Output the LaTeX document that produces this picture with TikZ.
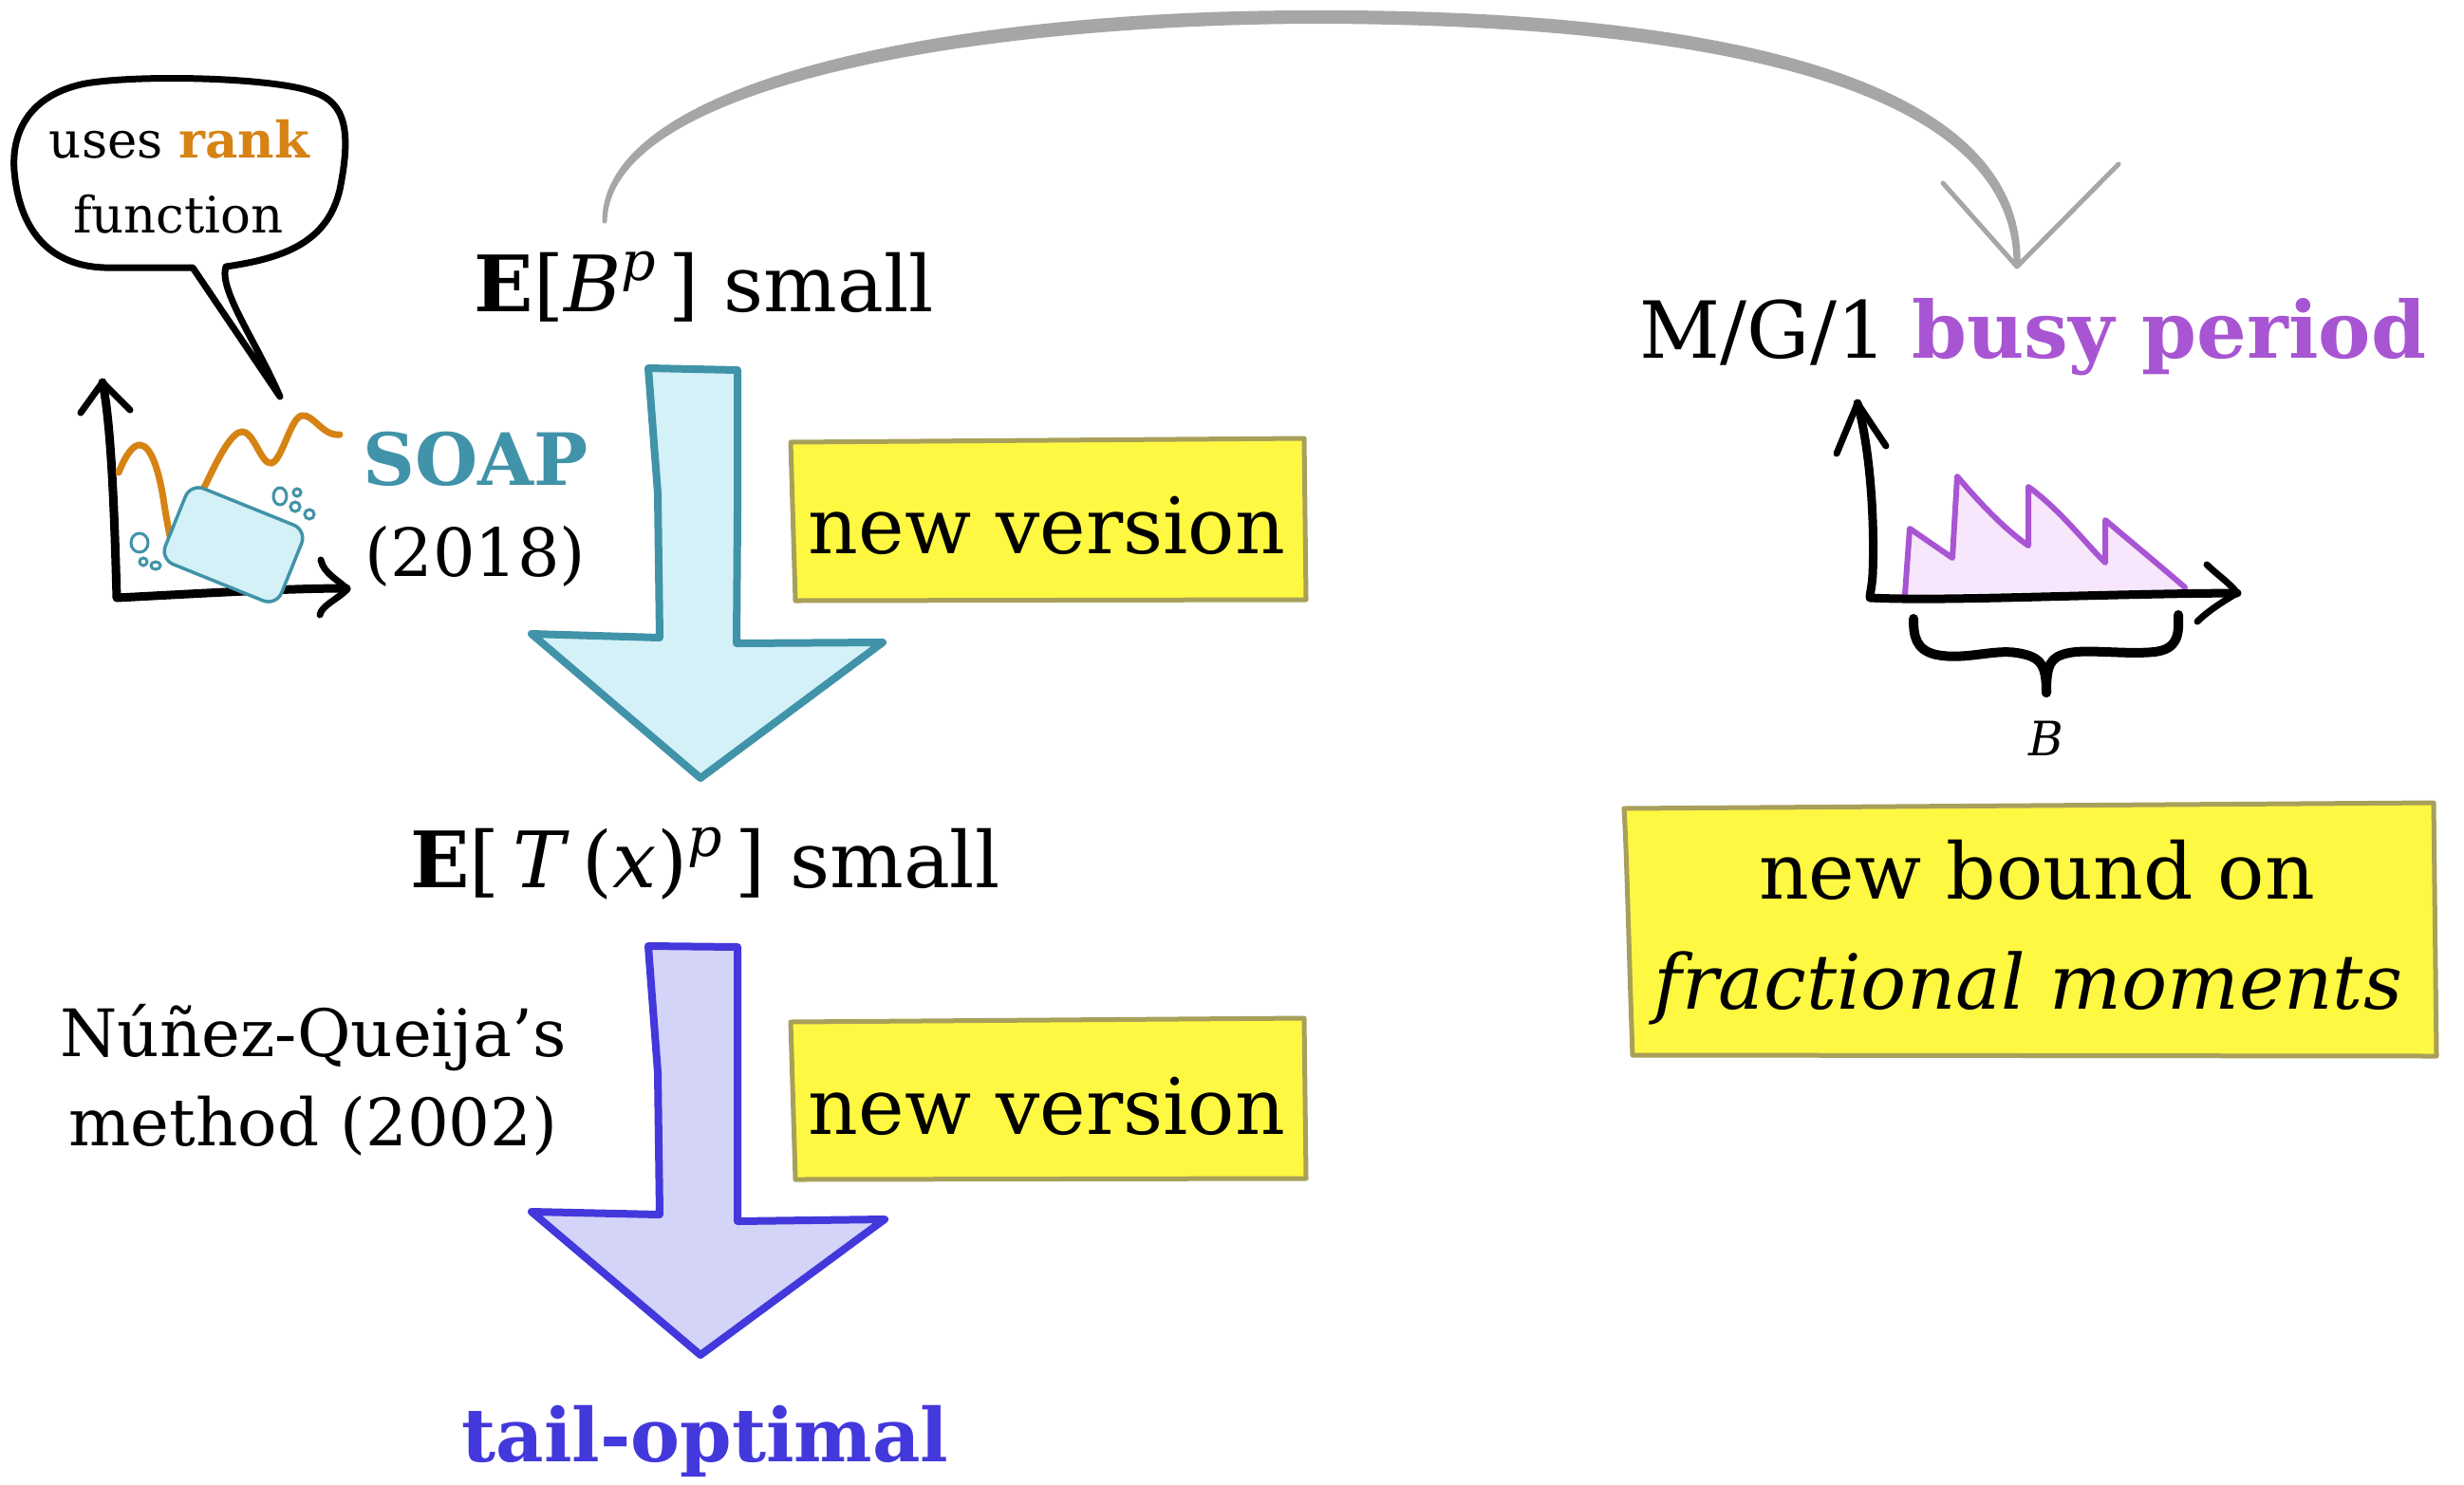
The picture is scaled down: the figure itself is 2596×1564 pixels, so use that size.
\documentclass[tikz,border=0pt]{standalone}
\usepackage{fontspec}
\setmainfont{DejaVu Serif}
\definecolor{soapteal}{RGB}{64,147,168}
\definecolor{soapfill}{RGB}{211,241,247}
\definecolor{rankorange}{RGB}{214,131,20}
\definecolor{busypurple}{RGB}{168,85,211}
\definecolor{busyfill}{RGB}{247,230,252}
\definecolor{tailblue}{RGB}{67,56,219}
\definecolor{tailfill}{RGB}{212,211,248}
\definecolor{notefill}{RGB}{255,248,66}
\definecolor{noteedge}{RGB}{168,160,90}
\definecolor{linkgray}{RGB}{166,166,166}
% italic exponent set in text fonts
\newcommand{\expit}[1]{\raisebox{0.4em}{\fontsize{57}{60}\selectfont\itshape #1}}
\tikzset{
  bigtext/.style={font=\fontsize{82}{98}\selectfont, inner sep=0pt, anchor=base},
  midtext/.style={font=\fontsize{69}{83}\selectfont, inner sep=0pt, anchor=base},
  bubbletext/.style={font=\fontsize{53}{64}\selectfont, inner sep=0pt, anchor=base},
  note/.style={draw=noteedge, fill=notefill, line width=5pt, line join=round},
  blockarrow/.style={line width=8pt, line join=round},
  axisline/.style={black, line width=9pt, line cap=round, line join=round},
  tipline/.style={black, line width=7pt, line cap=round, line join=round},
}
\begin{document}
\begin{tikzpicture}[x=1pt, y=-1pt]
\useasboundingbox (0,0) rectangle (2596,1564);
\fill[white] (0,0) rectangle (2596,1564);

% ---------- speech bubble ----------
\draw[black, line width=7pt, line join=round, fill=white]
  (203,282) -- (295,418) .. controls (270,360) and (230,305) .. (238,281)
  .. controls (300,272) and (345,255) .. (358,200)
  .. controls (370,140) and (365,108) .. (330,97)
  .. controls (290,82) and (150,78) .. (90,88)
  .. controls (30,100) and (12,140) .. (15,180)
  .. controls (20,240) and (50,280) .. (110,282)
  -- cycle;
\node[bubbletext] (uses) at (189,166) {uses \textcolor{rankorange}{\bfseries rank}};
\node[bubbletext] (func) at (188,245) {function};

% ---------- rank-function sketch with soap ----------
\draw[axisline] (108,403) .. controls (118,450) and (121,560) .. (123,630)
  .. controls (200,626) and (300,620) .. (365,620);
\draw[tipline] (85,435) -- (108,403) -- (137,432);
\draw[tipline] (338,590) .. controls (341,605) and (358,612) .. (366,621)
  .. controls (355,632) and (339,638) .. (337,648);
\draw[rankorange, line width=7pt, line cap=round]
  (125,498) .. controls (133,478) and (141,468) .. (148,469)
  .. controls (160,470) and (168,500) .. (172,525)
  .. controls (175,545) and (178,560) .. (180,570)
  .. controls (195,560) and (205,530) .. (217,510)
  .. controls (232,478) and (245,455) .. (255,455)
  .. controls (268,455) and (275,490) .. (286,488)
  .. controls (297,486) and (306,440) .. (318,438)
  .. controls (330,436) and (340,460) .. (358,458);
\begin{scope}[shift={(246,574)}, rotate=-22]
  \draw[soapteal, fill=soapfill, line width=3.5pt, rounded corners=15pt]
    (-66,-43) rectangle (66,43);
\end{scope}
\begin{scope}[soapteal, line width=3pt]
  \draw (295,523) ellipse [x radius=7, y radius=9];
  \draw (313,519) circle [radius=4];
  \draw (311,534) circle [radius=5];
  \draw (326,542) circle [radius=5];
  \draw (147,572) ellipse [x radius=9, y radius=10];
  \draw (151,592) circle [radius=4];
  \draw (164,596) ellipse [x radius=5, y radius=4];
\end{scope}
\node[font=\fontsize{76}{92}\selectfont\bfseries, text=soapteal, inner sep=0pt, anchor=base west] (soap) at (382,511) {SOAP};
\node[font=\fontsize{70}{84}\selectfont, inner sep=0pt, anchor=base west] (soapyear) at (384,607) {(2018)};

% ---------- main column ----------
\node[bigtext] (ebp) at (742,328) {{\bfseries E}[\textit{B}\expit{p}\,] small};
\path[blockarrow, draw=soapteal, fill=soapfill]
  (683,388) -- (777,390) -- (777,540) -- (776,678) -- (930,677)
  -- (738,820) -- (560,668) -- (695,672) -- (693,520) -- cycle;
\path[note] (833,466) -- (1374,462) -- (1376,632) -- (838,633) -- cycle;
\node[bigtext] (newv1) at (1103,583) {new version};

\node[bigtext] (etp) at (743,935) {{\bfseries E}[\,\textit{T}\,(\textit{x})\expit{p}\,] small};
\node[midtext] (nq1) at (330,1113) {Núñez-Queija’s};
\node[midtext] (nq2) at (330,1207) {method (2002)};
\path[blockarrow, draw=tailblue, fill=tailfill]
  (683,997) -- (777,998) -- (777,1150) -- (777,1287) -- (932,1285)
  -- (738,1428) -- (560,1277) -- (695,1280) -- (693,1130) -- cycle;
\path[note] (833,1077) -- (1374,1073) -- (1376,1242) -- (838,1243) -- cycle;
\node[bigtext] (newv2) at (1103,1195) {new version};
\node[font=\fontsize{78}{94}\selectfont\bfseries, text=tailblue, inner sep=0pt, anchor=base] (tail) at (743,1540) {tail-optimal};

% ---------- busy period ----------
\node[font=\fontsize{83}{100}\selectfont, inner sep=0pt, anchor=base] (mg1) at (2142,377)
  {M/G/1 \textcolor{busypurple}{\bfseries busy period}};
\fill[busyfill] (2007,626) -- (2012,557) -- (2057,588) -- (2062,502)
  .. controls (2090,535) and (2115,560) .. (2137,575) -- (2137,513)
  .. controls (2170,537) and (2195,570) .. (2218,593) -- (2218,548)
  .. controls (2250,575) and (2280,600) .. (2302,622) -- cycle;
\draw[busypurple, line width=6pt, line join=round, line cap=round]
  (2007,626) -- (2012,557) -- (2057,588) -- (2062,502)
  .. controls (2090,535) and (2115,560) .. (2137,575) -- (2137,513)
  .. controls (2170,537) and (2195,570) .. (2218,593) -- (2218,548)
  .. controls (2250,575) and (2280,600) .. (2302,619);
\draw[axisline] (1957,425) .. controls (1972,480) and (1975,560) .. (1973,605)
  .. controls (1972,620) and (1970,626) .. (1970,630)
  .. controls (2050,634) and (2200,626) .. (2357,625);
\draw[tipline] (1935,478) -- (1957,425) -- (1987,470);
\draw[tipline] (2325,595) .. controls (2335,605) and (2350,615) .. (2357,625)
  .. controls (2340,635) and (2325,645) .. (2315,655);
\draw[black, line width=10pt, line cap=round, line join=round]
  (2016,652) .. controls (2016,670) and (2018,685) .. (2040,690)
  .. controls (2070,696) and (2100,684) .. (2125,688)
  .. controls (2150,692) and (2156,700) .. (2156,730);
\draw[black, line width=10pt, line cap=round, line join=round]
  (2295,648) .. controls (2296,670) and (2294,684) .. (2270,687)
  .. controls (2240,690) and (2200,684) .. (2180,688)
  .. controls (2160,692) and (2156,700) .. (2156,730);
\node[font=\fontsize{50}{60}\selectfont\itshape, inner sep=0pt, anchor=base] (blabel) at (2156,796) {B};

\path[note] (1711,852) -- (2564,846) -- (2567,1113) -- (1720,1112)
  .. controls (1716,1000) and (1714,900) .. cycle;
\node[bigtext] (bound1) at (2146,947) {new bound on};
\node[bigtext, font=\fontsize{80}{96}\selectfont\itshape] (bound2) at (2137,1063) {fractional moments};

% ---------- link from E[B^p] to the busy period (tapered stroke) ----------
\coordinate (linkstart) at (637,233);
\coordinate (linkend) at (2125,281);
\fill[linkgray]
  ([xshift=-2.5pt]linkstart) .. controls (635,84) and (1000,11) .. (1380,11)
  .. controls (1825,9) and (2136,86) .. ([xshift=3.5pt]linkend)
  -- ([xshift=-3.5pt]linkend)
  .. controls (2124,95) and (1815,25) .. (1380,25)
  .. controls (1000,27) and (644,96) .. ([xshift=2.5pt]linkstart) -- cycle;
\fill[linkgray] (linkstart) circle [radius=2.5pt];
\draw[linkgray, line width=5pt, line cap=round, line join=round]
  (2047,193) -- (linkend) -- (2232,173);
\end{tikzpicture}
\end{document}
